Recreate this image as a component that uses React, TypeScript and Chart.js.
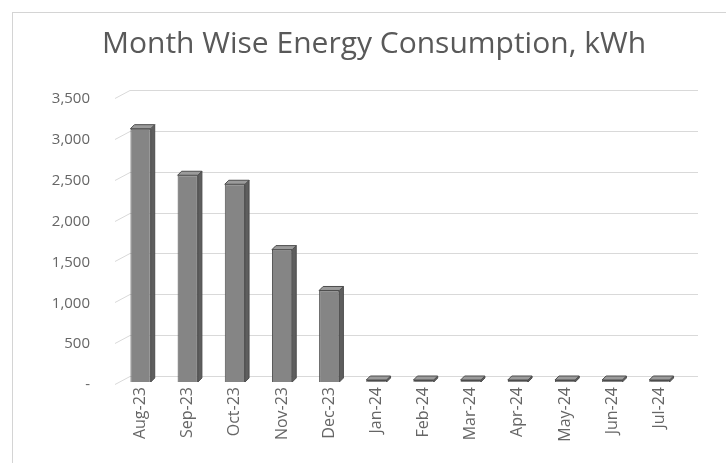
import React, { useEffect, useRef } from "react";
import { Chart, registerables } from "chart.js";

Chart.register(...registerables);

const TITLE = "Month Wise Energy Consumption, kWh";
const categories = ["Aug-23", "Sep-23", "Oct-23", "Nov-23", "Dec-23", "Jan-24", "Feb-24", "Mar-24", "Apr-24", "May-24", "Jun-24", "Jul-24"];
const consumption = [3100, 2530, 2420, 1620, 1120, 0, 0, 0, 0, 0, 0, 0];
const yMin = 0;
const yMax = 3500;
const yStep = 500;

const FRONT = "#858585";
const SIDE = "#5e5e5e";
const TOP = "#9b9b9b";
const EDGE = "#4d4d4d";
const GRID = "#d9d9d9";
const TEXT = "#666666";

const wallPlugin = {
  id: "wall3d",
  beforeDatasetsDraw(chart: any) {
    const { ctx, chartArea } = chart;
    const y = chart.scales.y;
    ctx.save();
    ctx.strokeStyle = GRID;
    ctx.lineWidth = 1;
    y.ticks.forEach((t: any) => {
      const py = Math.round(y.getPixelForValue(t.value)) + 0.5;
      ctx.beginPath();
      ctx.moveTo(chartArea.left - 2, py + 2);
      ctx.lineTo(chartArea.left + 13, py - 6);
      ctx.lineTo(chartArea.right + 15, py - 6);
      ctx.stroke();
    });
    ctx.restore();
  },
  afterDatasetsDraw(chart: any) {
    const { ctx } = chart;
    const meta = chart.getDatasetMeta(0);
    const dx = 4;
    const dy = 4;
    ctx.save();
    ctx.lineWidth = 1;
    ctx.strokeStyle = EDGE;
    meta.data.forEach((bar: any) => {
      const { x, y, base, width } = bar.getProps(["x", "y", "base", "width"], true);
      const l = x - width / 2;
      const r = x + width / 2;
      ctx.fillStyle = SIDE;
      ctx.beginPath();
      ctx.moveTo(r, y);
      ctx.lineTo(r + dx, y - dy);
      ctx.lineTo(r + dx, base - dy);
      ctx.lineTo(r, base);
      ctx.closePath();
      ctx.fill();
      ctx.stroke();
      ctx.fillStyle = TOP;
      ctx.beginPath();
      ctx.moveTo(l, y);
      ctx.lineTo(l + dx, y - dy);
      ctx.lineTo(r + dx, y - dy);
      ctx.lineTo(r, y);
      ctx.closePath();
      ctx.fill();
      ctx.stroke();
    });
    ctx.restore();
  },
};

export default function App() {
  const ref = useRef<HTMLCanvasElement | null>(null);

  useEffect(() => {
    if (!ref.current) return;
    const chart = new Chart(ref.current, {
      type: "bar",
      data: {
        labels: categories,
        datasets: [
          {
            label: "Energy Consumption (kWh)",
            data: consumption,
            backgroundColor: FRONT,
            borderColor: EDGE,
            borderWidth: 1,
            barPercentage: 0.43,
            categoryPercentage: 1,
            minBarLength: 2,
            yAxisID: "y",
          },
        ],
      },
      options: {
        animation: false,
        responsive: false,
        maintainAspectRatio: false,
        layout: { padding: { left: 24, right: 2, top: 0, bottom: 0 } },
        plugins: {
          legend: { display: false },
          tooltip: { enabled: false },
          title: {
            display: true,
            text: TITLE,
            color: "#595959",
            font: { family: "'Open Sans'", size: 30, weight: "normal" },
            padding: { top: 26, bottom: 34 },
          },
        },
        scales: {
          x: {
            grid: { display: false, drawTicks: false },
            border: { display: false },
            ticks: {
              color: TEXT,
              font: { family: "'Open Sans'", size: 16 },
              minRotation: 90,
              maxRotation: 90,
              padding: 5,
              autoSkip: false,
            },
            afterFit: (s: any) => {
              s.height = 81;
            },
          },
          y: {
            position: "left",
            min: yMin,
            max: yMax,
            grid: { display: false, drawTicks: false },
            border: { display: false },
            ticks: {
              stepSize: yStep,
              color: TEXT,
              font: { family: "'Open Sans'", size: 15 },
              padding: 27,
              labelOffset: 3,
              callback: (v: any) => (Number(v) === 0 ? "-" : Number(v).toLocaleString("en-US")),
            },
            afterFit: (s: any) => {
              s.width = 93;
            },
          },
          yRight: {
            position: "right",
            min: yMin,
            max: yMax,
            grid: { display: false, drawTicks: false },
            border: { display: false },
            ticks: { display: false },
            afterFit: (s: any) => {
              s.width = 41;
            },
          },
        },
      },
      plugins: [wallPlugin],
    });
    return () => chart.destroy();
  }, []);

  return (
    <div style={{ position: "fixed", left: 0, top: 0, width: 726, height: 463, background: "#fff", overflow: "hidden" }}>
      <div
        style={{
          position: "absolute",
          left: 12,
          top: 12,
          width: 800,
          height: 600,
          borderTop: "1px solid #d4d4d4",
          borderLeft: "1px solid #d4d4d4",
        }}
      />
      <canvas ref={ref} width={726} height={463} style={{ position: "absolute", left: 0, top: 0, display: "block" }} />
    </div>
  );
}
